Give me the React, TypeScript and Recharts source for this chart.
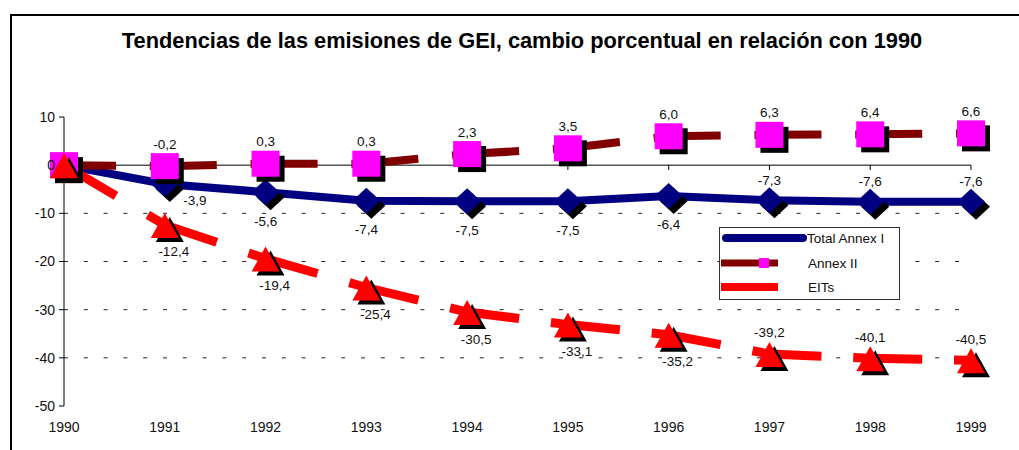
import { LineChart, Line, XAxis, YAxis, ReferenceLine, LabelList, Legend } from "recharts";

const years = ["1990", "1991", "1992", "1993", "1994", "1995", "1996", "1997", "1998", "1999"];
const totalAnnexI = [0, -3.9, -5.6, -7.4, -7.5, -7.5, -6.4, -7.3, -7.6, -7.6];
const annexII = [0, -0.2, 0.3, 0.3, 2.3, 3.5, 6.0, 6.3, 6.4, 6.6];
const eits = [0, -12.4, -19.4, -25.4, -30.5, -33.1, -35.2, -39.2, -40.1, -40.5];
const yTicks = [10, 0, -10, -20, -30, -40, -50];
const gridValues = [-10, -20, -30, -40];

const data = years.map((year, i) => ({
  year,
  total: totalAnnexI[i],
  annex2: annexII[i],
  eits: eits[i],
}));

const FONT = "'Liberation Sans', Arial, sans-serif";
const NAVY = "#000080";
const DARK_RED = "#800000";
const RED = "#ff0000";
const MAGENTA = "#ff00ff";

const fmt = (v: number) => v.toFixed(1).replace(".", ",");

// Excel-style broken line: a dash around each point, drawn from `before` px left of it to `after` px right of it
const dashedCurve = (before: number, after: number) => (context: any) => {
  let pts: [number, number][] = [];
  const along = (p: [number, number], q: [number, number], d: number): [number, number] => {
    const t = d / Math.abs(q[0] - p[0]);
    return [p[0] + t * (q[0] - p[0]), p[1] + t * (q[1] - p[1])];
  };
  return {
    areaStart() {},
    areaEnd() {},
    lineStart() {
      pts = [];
    },
    point(x: number, y: number) {
      pts.push([+x, +y]);
    },
    lineEnd() {
      pts.forEach((p, i) => {
        const prev = pts[i - 1];
        const next = pts[i + 1];
        const s = prev ? along(p, prev, before) : p;
        context.moveTo(s[0], s[1]);
        context.lineTo(p[0], p[1]);
        if (next) {
          const e = along(p, next, after);
          context.lineTo(e[0], e[1]);
        }
      });
    },
  };
};

const diamondDot = (props: any) => {
  const { cx, cy, index } = props;
  const d = (x: number, y: number) => `M${x},${y - 13} L${x + 14},${y} L${x},${y + 13} L${x - 14},${y} Z`;
  return (
    <g key={`dia-${index}`}>
      <path d={d(cx + 5, cy + 5)} fill="#000" />
      <path d={d(cx, cy)} fill={NAVY} />
    </g>
  );
};

const squareDot = (props: any) => {
  const { cx, cy, index } = props;
  return (
    <g key={`sq-${index}`}>
      <rect x={cx - 14 + 5} y={cy - 13 + 5} width={28} height={26} fill="#000" />
      <rect x={cx - 14} y={cy - 13} width={28} height={26} fill={MAGENTA} />
    </g>
  );
};

const triangleDot = (props: any) => {
  const { cx, cy, index } = props;
  const d = (x: number, y: number) => `M${x},${y - 12} L${x + 14},${y + 13} L${x - 14},${y + 13} Z`;
  return (
    <g key={`tri-${index}`}>
      <path d={d(cx + 5, cy + 4)} fill="#000" />
      <path d={d(cx, cy)} fill={RED} />
    </g>
  );
};

const labelText = (x: number, y: number, value: number, key: string) => (
  <text
    key={key}
    x={x}
    y={y}
    textAnchor="middle"
    dominantBaseline="central"
    fontSize={13.5}
    fontFamily={FONT}
    fill="#111"
  >
    {fmt(value)}
  </text>
);

const annexIILabel = (props: any) => {
  const { x, y, value, index } = props;
  if (index === 0) return null;
  return labelText(x, y - 22, value, `a2-${index}`);
};

const totalLabel = (props: any) => {
  const { x, y, value, index } = props;
  if (index === 0) return null;
  if (index === 1) return labelText(x + 30, y + 17, value, `t-${index}`);
  if (index >= 7) return labelText(x, y - 20, value, `t-${index}`);
  return labelText(x, y + 29, value, `t-${index}`);
};

const eitsLabel = (props: any) => {
  const { x, y, value, index } = props;
  if (index === 0) return null;
  if (index >= 7) return labelText(x, y - 21, value, `e-${index}`);
  return labelText(x + 9, y + 27, value, `e-${index}`);
};

const renderLegend = () => (
  <svg width={181} height={73} style={{ display: "block" }}>
    <rect x={0.5} y={0.5} width={180} height={72} fill="#fff" stroke="#333" />
    <line x1={7} y1={11} x2={84} y2={11} stroke={NAVY} strokeWidth={8} strokeLinecap="round" />
    <text x={88} y={11} dominantBaseline="central" fontSize={13.5} fontFamily={FONT} fill="#111">
      Total Annex I
    </text>
    <line x1={2} y1={36} x2={59} y2={36} stroke={DARK_RED} strokeWidth={7} />
    <rect x={40} y={31} width={10} height={10} fill={MAGENTA} />
    <text x={89} y={36} dominantBaseline="central" fontSize={13.5} fontFamily={FONT} fill="#111">
      Annex II
    </text>
    <line x1={2} y1={60} x2={59} y2={60} stroke={RED} strokeWidth={8} />
    <text x={89} y={60} dominantBaseline="central" fontSize={13.5} fontFamily={FONT} fill="#111">
      EITs
    </text>
  </svg>
);

export default function App() {
  return (
    <div
      style={{
        position: "fixed",
        left: 0,
        top: 0,
        width: 1019,
        height: 450,
        overflow: "hidden",
        background: "#fff",
        fontFamily: FONT,
      }}
    >
      <div
        style={{
          position: "absolute",
          left: 10,
          top: 14,
          width: 1100,
          height: 600,
          borderTop: "2px solid #000",
          borderLeft: "2px solid #000",
        }}
      />
      <div
        style={{
          position: "absolute",
          left: 0,
          top: 28,
          width: 1044,
          textAlign: "center",
          fontSize: 21.8,
          lineHeight: "25px",
          fontWeight: "bold",
          color: "#000",
        }}
      >
        Tendencias de las emisiones de GEI, cambio porcentual en relación con 1990
      </div>
      <div style={{ position: "absolute", left: 0, top: 0 }}>
        <LineChart width={1019} height={450} data={data} margin={{ top: 117, right: 48, bottom: 14, left: 24 }}>
          <XAxis
            dataKey="year"
            axisLine={false}
            tickLine={false}
            tickSize={6}
            tickMargin={10}
            height={30}
            interval={0}
            tick={{ fontSize: 14, fontFamily: FONT, fill: "#111" }}
          />
          <YAxis
            type="number"
            domain={[-50, 10]}
            ticks={yTicks}
            interval={0}
            width={40}
            tickSize={5}
            tickMargin={4}
            axisLine={{ stroke: "#000" }}
            tickLine={{ stroke: "#000" }}
            tick={{ fontSize: 14, fontFamily: FONT, fill: "#111" }}
          />
          {gridValues.map((v) => (
            <ReferenceLine key={v} y={v} stroke="#222" strokeDasharray="4 15.8" />
          ))}
          <ReferenceLine y={0} stroke="#000" />
          {years.slice(1).map((yr) => (
            <ReferenceLine
              key={`tick-${yr}`}
              segment={[
                { x: yr, y: 0 },
                { x: yr, y: -1 },
              ]}
              stroke="#000"
            />
          ))}
          <Line
            dataKey="total"
            type="linear"
            stroke={NAVY}
            strokeWidth={8}
            dot={diamondDot}
            activeDot={false}
            isAnimationActive={false}
          >
            <LabelList dataKey="total" content={totalLabel} />
          </Line>
          <Line
            dataKey="annex2"
            type={dashedCurve(15, 52) as any}
            stroke={DARK_RED}
            strokeWidth={8}
            dot={squareDot}
            activeDot={false}
            isAnimationActive={false}
          >
            <LabelList dataKey="annex2" content={annexIILabel} />
          </Line>
          <Line
            dataKey="eits"
            type={dashedCurve(17, 52) as any}
            stroke={RED}
            strokeWidth={9}
            dot={triangleDot}
            activeDot={false}
            isAnimationActive={false}
          >
            <LabelList dataKey="eits" content={eitsLabel} />
          </Line>
          <Legend
            layout="vertical"
            align="center"
            verticalAlign="middle"
            content={renderLegend}
            wrapperStyle={{ left: 719, top: 227, width: 181, height: 73 }}
          />
        </LineChart>
      </div>
    </div>
  );
}
